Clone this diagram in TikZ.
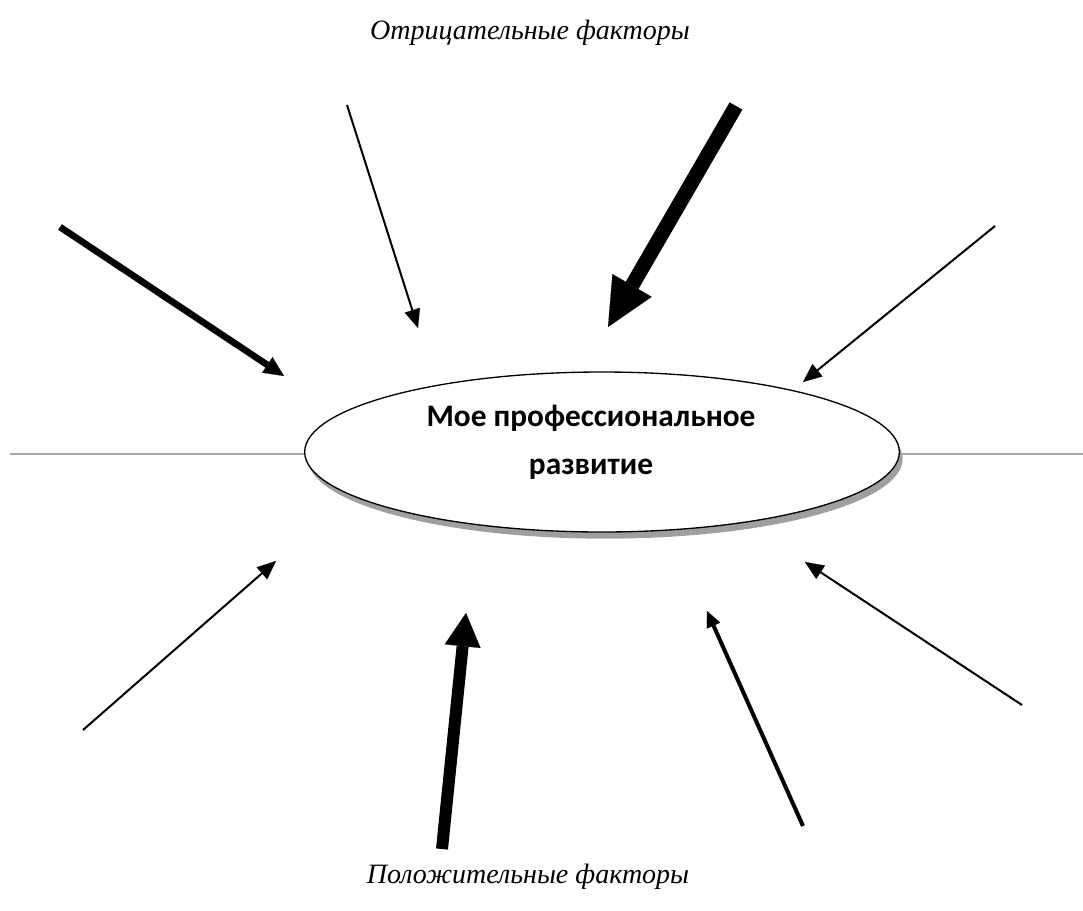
\documentclass[tikz,border=0pt]{standalone}
\usepackage{fontspec}
\setmainfont{Liberation Serif}
\newfontfamily\carlito{Carlito}
\usetikzlibrary{arrows.meta,shadows,shapes.geometric}
\tikzset{
  core/.style={ellipse, draw, line width=1pt, fill=white, minimum width=446pt, minimum height=120pt, inner sep=0pt,
    drop shadow={shadow xshift=2.5pt, shadow yshift=-5pt, fill=gray!75, opacity=1}},
  coretext/.style={align=center, inner sep=0pt, font=\carlito\bfseries\fontsize{23.5}{36}\selectfont},
  title/.style={font=\itshape\fontsize{21}{25}\selectfont, inner sep=0pt},
  axis/.style={draw=gray!70, line width=2pt},
  thinarrow/.style={line width=1.5pt, -{Triangle[length=14pt,width=12pt,line width=0.1pt]}},
  midarrow/.style={line width=3pt, -{Triangle[length=12pt,width=11pt,line width=0.1pt]}},
  boldarrow/.style={line width=5pt, -{Triangle[length=15pt,width=14pt,line width=0.1pt]}},
  heavyarrow/.style={line width=11pt, -{Triangle[length=36pt,width=34pt,line width=0.1pt]}},
  bigarrow/.style={line width=9pt, -{Triangle[length=25pt,width=27pt,line width=0.1pt]}}
}
\begin{document}
\begin{tikzpicture}[x=0.75pt,y=-0.75pt]
\useasboundingbox (0,0) rectangle (1083,911);
\coordinate (lw) at (10,454);
\coordinate (rw) at (1083,454);
\node[core] (c) at (602,452) {};
\node[coretext] (ct) at (591,442) {Мое профессиональное\\развитие};
\node[title] (neg) at (530,33) {Отрицательные факторы};
\node[title] (pos) at (528,877) {Положительные факторы};
\draw[axis] (lw) -- (c.west |- lw);
\draw[axis] (c.east |- rw) -- (rw);
% negative factors
\coordinate (a1s) at (347,105); \coordinate (a1e) at (418,328);
\coordinate (a2s) at (736,106); \coordinate (a2e) at (608,327);
\coordinate (a3s) at (60,227);  \coordinate (a3e) at (284,376);
\coordinate (a4s) at (995,226); \coordinate (a4e) at (803,382);
\draw[thinarrow] (a1s) -- (a1e);
\draw[heavyarrow] (a2s) -- (a2e);
\draw[boldarrow] (a3s) -- (a3e);
\draw[thinarrow] (a4s) -- (a4e);
% positive factors
\coordinate (b1s) at (83,730);  \coordinate (b1e) at (276,561);
\coordinate (b2s) at (442,849); \coordinate (b2e) at (466,613);
\coordinate (b3s) at (803,826); \coordinate (b3e) at (707,611);
\coordinate (b4s) at (1022,705); \coordinate (b4e) at (805,562);
\draw[thinarrow] (b1s) -- (b1e);
\draw[bigarrow] (b2s) -- (b2e);
\draw[midarrow] (b3s) -- (b3e);
\draw[thinarrow] (b4s) -- (b4e);
\end{tikzpicture}
\end{document}
